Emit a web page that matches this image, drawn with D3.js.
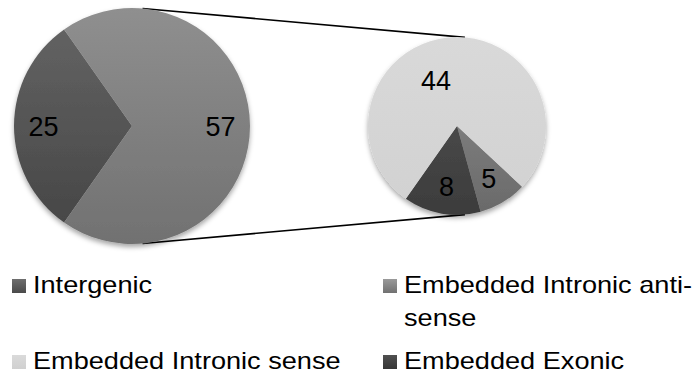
<!DOCTYPE html>
<html>
<head>
<meta charset="utf-8">
<script src="https://cdn.jsdelivr.net/npm/d3@7"></script>
<style>
  html, body { margin: 0; padding: 0; background: #fff; }
  svg { display: block; }
</style>
</head>
<body>
<svg id="chart" width="694" height="379"></svg>
<script>
// Gene classes, in legend order (row by row, two columns)
const categories = ["Intergenic", "Embedded Intronic anti-sense", "Embedded Intronic sense", "Embedded Exonic"];
const counts = [25, 5, 44, 8];
// Classes broken out into the secondary pie, in drawing order
const splitCategories = ["Embedded Intronic anti-sense", "Embedded Exonic", "Embedded Intronic sense"];

// Fill ramps (top -> bottom) per class, plus the combined "other" slice
const fills = {
  "Intergenic": ["#626262", "#474747"],
  "Embedded Intronic anti-sense": ["#7c7c7c", "#6a6a6a"],
  "Embedded Intronic sense": ["#d9d9d9", "#d2d2d2"],
  "Embedded Exonic": ["#484848", "#3c3c3c"],
  "Other": ["#8f8f8f", "#717171"]
};
const legendFills = {
  "Intergenic": ["#6e6e6e", "#4a4a4a"],
  "Embedded Intronic anti-sense": ["#9a9a9a", "#717171"],
  "Embedded Intronic sense": ["#dadada", "#d0d0d0"],
  "Embedded Exonic": ["#505050", "#363636"]
};

const svg = d3.select("#chart");
const font = "'Liberation Sans', Arial, Helvetica, sans-serif";
const deg = Math.PI / 180;

const primary = { cx: 132, cy: 126, r: 118 };
const secondary = { cx: 457, cy: 126, r: 89 };

const value = name => counts[categories.indexOf(name)];
const splitTotal = d3.sum(splitCategories, value);

const primaryData = [
  { key: "Intergenic", value: value("Intergenic") },
  { key: "Other", value: splitTotal }
];
const secondaryData = splitCategories.map(k => ({ key: k, value: value(k) }));

// Intergenic wedge faces left; the split group starts just past 4 o'clock
const primaryTotal = d3.sum(primaryData, d => d.value);
const primaryStart = (270 - 180 * primaryData[0].value / primaryTotal) * deg;
const secondaryStart = 133 * deg;

const pieGen = start => d3.pie().sort(null).value(d => d.value)
  .startAngle(start).endAngle(start + 2 * Math.PI);

// gradients
const defs = svg.append("defs");
function addGradient(id, stops) {
  const g = defs.append("linearGradient").attr("id", id)
    .attr("x1", 0).attr("y1", 0).attr("x2", 0).attr("y2", 1);
  g.append("stop").attr("offset", "0%").attr("stop-color", stops[0]);
  g.append("stop").attr("offset", "100%").attr("stop-color", stops[1]);
}
const slug = s => s.replace(/[^a-z]/gi, "");
Object.entries(fills).forEach(([k, v]) => addGradient("f-" + slug(k), v));
Object.entries(legendFills).forEach(([k, v]) => addGradient("l-" + slug(k), v));

const shadow = defs.append("filter").attr("id", "shadow")
  .attr("x", "-20%").attr("y", "-20%").attr("width", "140%").attr("height", "140%");
shadow.append("feDropShadow").attr("dx", 0).attr("dy", 3)
  .attr("stdDeviation", 2.5).attr("flood-color", "#000").attr("flood-opacity", 0.35);

// connector lines: outer tangents between the two circles
const dist = secondary.cx - primary.cx;
const phi = Math.acos((primary.r - secondary.r) / dist);
[-1, 1].forEach(s => {
  svg.append("line")
    .attr("x1", primary.cx + primary.r * Math.cos(phi))
    .attr("y1", primary.cy + s * primary.r * Math.sin(phi))
    .attr("x2", secondary.cx + secondary.r * Math.cos(phi))
    .attr("y2", secondary.cy + s * secondary.r * Math.sin(phi))
    .attr("stroke", "#000").attr("stroke-width", 1.6);
});

function drawPie(data, start, geo, labelPlace) {
  const arcs = pieGen(start)(data);
  const arc = d3.arc().innerRadius(0).outerRadius(geo.r);
  const g = svg.append("g").attr("transform", `translate(${geo.cx},${geo.cy})`);
  g.append("g").attr("filter", "url(#shadow)")
    .selectAll("path").data(arcs).join("path")
    .attr("d", arc)
    .attr("fill", d => `url(#f-${slug(d.data.key)})`);
  g.selectAll("text").data(arcs).join("text")
    .attr("transform", d => {
      const p = labelPlace(d);
      const a = (d.startAngle + d.endAngle) / 2 + (p.shift || 0) * deg;
      const rr = p.k * geo.r;
      return `translate(${rr * Math.sin(a)},${-rr * Math.cos(a)})`;
    })
    .attr("text-anchor", "middle")
    .attr("dy", "0.36em")
    .attr("font-family", font)
    .attr("font-size", 27)
    .attr("fill", "#000")
    .text(d => d.data.value);
}

drawPie(primaryData, primaryStart, primary, () => ({ k: 0.75 }));
drawPie(secondaryData, secondaryStart, secondary,
  d => d.data.key === "Embedded Intronic sense" ? { k: 0.57, shift: -18.5 } : { k: 0.69 });

// legend
const legendCols = [12, 383];
const legendRows = [293, 369];
const stretch = 1.18;
const lineGap = 33;
const legend = svg.append("g");
categories.forEach((name, i) => {
  const x = legendCols[i % 2], y = legendRows[Math.floor(i / 2)];
  legend.append("rect")
    .attr("x", x).attr("y", y - 14).attr("width", 14).attr("height", 14)
    .attr("fill", `url(#l-${slug(name)})`);
  const tx = x + 21;
  const maxW = ((i % 2 === 0 ? legendCols[1] : 700) - tx) / stretch;
  const t = legend.append("text")
    .attr("transform", `translate(${tx},${y}) scale(${stretch},1)`)
    .attr("font-family", font).attr("font-size", 23).attr("fill", "#000");
  // wrap on spaces and after hyphens
  const tokens = name.match(/[^\s-]+-?\s?/g);
  let line = "", lineNo = 0;
  let span = t.append("tspan").attr("x", 0).attr("y", 0);
  tokens.forEach(tok => {
    const trial = line + tok;
    span.text(trial.trimEnd());
    if (span.node().getComputedTextLength() > maxW && line) {
      span.text(line.trimEnd());
      lineNo++;
      line = tok;
      span = t.append("tspan").attr("x", 0).attr("y", lineNo * lineGap).text(tok.trimEnd());
    } else {
      line = trial;
    }
  });
});
</script>
</body>
</html>
